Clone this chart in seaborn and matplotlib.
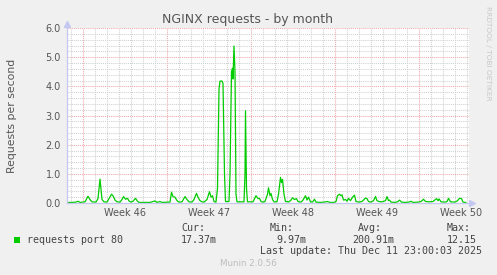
import matplotlib
matplotlib.use("Agg")
import matplotlib.pyplot as plt
import matplotlib.transforms as mtransforms
from matplotlib.patches import Rectangle
import numpy as np
import pandas as pd
import seaborn as sns

# ---------------- data ----------------
hours = [0, 10, 18, 22, 26, 36, 42, 46, 50, 58, 62, 66, 70, 74, 80, 84, 89, 92, 96, 100,
         106, 110, 113, 117, 121, 124, 128, 132, 137, 141, 144, 156, 166, 176, 180, 186, 190,
         206, 209, 212, 216, 220, 224, 230, 236, 240, 244, 250, 254, 259, 262, 266, 270, 274,
         280, 285, 288, 291, 294, 298, 301, 304, 306, 310, 312, 315, 317, 324, 326, 329, 331,
         332, 334, 336, 338, 340, 354, 356, 357, 359, 361, 372, 378, 382, 385, 388, 392, 396,
         401, 403, 406, 408, 411, 414, 420, 423, 427, 429, 431, 434, 437, 444, 448, 451, 455,
         459, 462, 468, 472, 477, 480, 483, 487, 491, 495, 498, 506, 514, 521, 526, 534, 538,
         541, 545, 548, 550, 553, 557, 560, 563, 567, 571, 575, 578, 584, 590, 597, 600, 603,
         608, 613, 617, 620, 624, 628, 632, 637, 640, 643, 645, 648, 656, 661, 665, 669, 676,
         684, 688, 692, 702, 708, 713, 717, 724, 732, 739, 742, 744, 748, 756, 760, 763, 767,
         776, 781, 785, 789, 792, 798]
rate = [0.02, 0.02, 0.03, 0.06, 0.02, 0.04, 0.23, 0.12, 0.04, 0.03, 0.15, 0.82, 0.12, 0.04,
        0.03, 0.15, 0.30, 0.25, 0.10, 0.04, 0.03, 0.12, 0.22, 0.13, 0.16, 0.07, 0.03, 0.06,
        0.16, 0.06, 0.02, 0.02, 0.02, 0.07, 0.02, 0.05, 0.02, 0.03, 0.37, 0.22, 0.20, 0.08,
        0.03, 0.04, 0.22, 0.12, 0.04, 0.03, 0.12, 0.33, 0.20, 0.08, 0.04, 0.03, 0.12, 0.39,
        0.20, 0.25, 0.05, 0.03, 0.50, 3.90, 4.18, 4.18, 4.10, 1.00, 0.05, 0.05, 1.00, 4.50,
        4.62, 4.25, 5.38, 4.50, 0.30, 0.04, 0.04, 1.00, 3.16, 0.50, 0.04, 0.04, 0.25, 0.15,
        0.16, 0.05, 0.03, 0.05, 0.30, 0.52, 0.25, 0.33, 0.12, 0.04, 0.04, 0.30, 0.88, 0.70,
        0.81, 0.30, 0.05, 0.04, 0.10, 0.18, 0.12, 0.15, 0.05, 0.03, 0.10, 0.25, 0.10, 0.20,
        0.04, 0.03, 0.13, 0.03, 0.02, 0.03, 0.05, 0.02, 0.02, 0.05, 0.25, 0.30, 0.25, 0.28,
        0.10, 0.12, 0.06, 0.16, 0.08, 0.20, 0.27, 0.05, 0.03, 0.05, 0.17, 0.15, 0.05, 0.03,
        0.08, 0.22, 0.08, 0.05, 0.04, 0.05, 0.08, 0.22, 0.08, 0.10, 0.03, 0.02, 0.04, 0.10,
        0.03, 0.02, 0.03, 0.06, 0.02, 0.03, 0.05, 0.13, 0.05, 0.04, 0.05, 0.15, 0.08, 0.14,
        0.04, 0.03, 0.05, 0.16, 0.04, 0.03, 0.08, 0.16, 0.15, 0.03, 0.02]

week_starts = [32, 200, 368, 536, 704]          # hours, Monday 00:00
week_labels = ["Week 46", "Week 47", "Week 48", "Week 49", "Week 50"]
x_span = 804                                     # hours shown
y_ticks = [0.0, 1.0, 2.0, 3.0, 4.0, 5.0, 6.0]

series_name = "requests port 80"
stat_names = ["Cur:", "Min:", "Avg:", "Max:"]
stat_values = ["17.37m", "9.97m", "200.91m", "12.15"]
title = "NGINX requests - by month"
ylabel = "Requests per second"
last_update = "Last update: Thu Dec 11 23:00:03 2025"
footer = "Munin 2.0.56"
watermark = "RRDTOOL / TOBI OETIKER"

# ---------------- figure ----------------
sns.set_style("white")
plt.rcParams["font.family"] = ["DejaVu Sans"]

W, H = 497, 275
BG = "#F0F0F0"
GREEN = "#00CC00"
AXC = "#C4C8F0"
MGRID = "#F0A8A8"
GRID = "#D0D0D0"
TXT = "#555555"

fig = plt.figure(figsize=(W / 100, H / 100), dpi=100, facecolor=BG)
ax = fig.add_axes([67 / W, 72 / H, 402 / W, 175 / H])
ax.set_facecolor("white")

df = pd.DataFrame({"hours": hours, "rate": rate})
sns.lineplot(data=df, x="hours", y="rate", ax=ax, color=GREEN, linewidth=0.9,
             zorder=3, legend=False)

ax.set_xlim(0, x_span)
ax.set_ylim(0, 6.0)

# grids
ax.set_yticks(y_ticks)
ax.set_yticks(np.arange(0, 6.01, 0.2), minor=True)
ax.set_yticklabels([f"{v:.1f}" for v in y_ticks])
ax.set_xticks(week_starts)
ax.set_xticklabels([""] * len(week_starts))
ax.set_xticks(np.arange(8, x_span, 24), minor=True)

ax.grid(which="minor", color=GRID, linestyle=(0, (1, 1)), linewidth=0.75)
ax.grid(which="major", color=MGRID, linestyle=(0, (1, 1)), linewidth=0.75)
ax.set_axisbelow(True)

ax.tick_params(axis="y", which="major", length=2, width=0.75, color=MGRID,
               labelsize=7, labelcolor=TXT, pad=2.5)
ax.tick_params(axis="y", which="minor", length=1.5, width=0.75, color=GRID)
ax.tick_params(axis="x", which="major", length=2, width=0.75, color=MGRID, pad=1)
ax.tick_params(axis="x", which="minor", length=1.5, width=0.75, color=GRID)

trans = mtransforms.blended_transform_factory(ax.transData, ax.transAxes)
for ws, lab in zip(week_starts, week_labels):
    ax.text(ws + 84, -10 / 175, lab, transform=trans, ha="center", va="center",
            fontsize=7, color=TXT)

for s in ["top", "right"]:
    ax.spines[s].set_visible(False)
for s in ["left", "bottom"]:
    ax.spines[s].set_color(AXC)
    ax.spines[s].set_linewidth(0.9)
    ax.spines[s].set_zorder(4)

# axis arrows
ax.plot([0], [1.0 + 4 / 175], marker="^", markersize=4, color=AXC, transform=ax.transAxes,
        clip_on=False, zorder=5)
ax.plot([1.0 + 3 / 402], [0], marker=">", markersize=4, color=AXC, transform=ax.transAxes,
        clip_on=False, zorder=5)
ax.set_xlabel("")
ax.set_ylabel("")

def fx(px):
    return px / W

def fy(py):
    return 1 - py / H

fig.text(fx(248), fy(19), title, ha="center", va="center", fontsize=9, color=TXT)
fig.text(fx(12), fy(116), ylabel, ha="center", va="center", rotation=90,
         fontsize=7.8, color=TXT)
fig.text(fx(488), fy(6), watermark, ha="center", va="top", rotation=-90,
         fontsize=5.3, color="#C8C8C8")

mono = dict(family="DejaVu Sans Mono", fontsize=7.2, color="#444444", va="center")
fig.patches.append(Rectangle((fx(14), fy(243)), 6 / W, 6 / H, transform=fig.transFigure,
                             facecolor=GREEN, edgecolor="none"))
fig.text(fx(27), fy(240), series_name, ha="left", **mono)
head_x = [181, 270, 358, 447]
val_x = [(181, "left"), (306, "right"), (352, "left"), (447, "left")]
for name, hx, val, (vx, vha) in zip(stat_names, head_x, stat_values, val_x):
    fig.text(fx(hx), fy(228), name, ha="left", **mono)
    fig.text(fx(vx), fy(240), val, ha=vha, **mono)
fig.text(fx(482), fy(251.5), last_update, ha="right", **mono)
fig.text(fx(248), fy(264), footer, ha="center", va="center", fontsize=6.3, color="#BDBDBD")

fig.savefig("out.png", dpi=100, facecolor=BG)
